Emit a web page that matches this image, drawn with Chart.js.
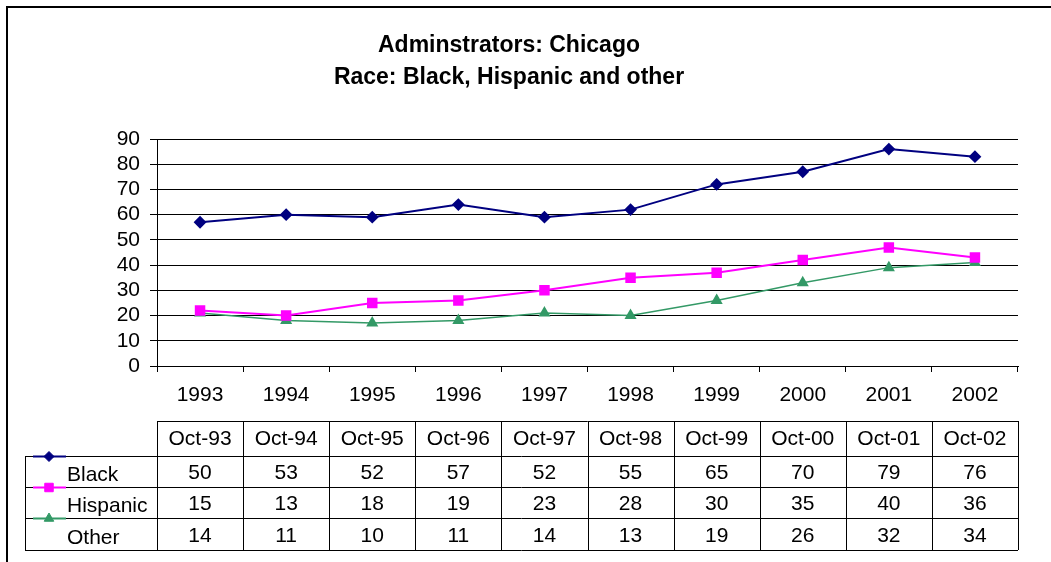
<!DOCTYPE html>
<html>
<head>
<meta charset="utf-8">
<title>Adminstrators: Chicago</title>
<script src="https://cdn.jsdelivr.net/npm/chart.js@4.4.1/dist/chart.umd.min.js"></script>
<style>
  html, body { margin: 0; padding: 0; background: #fff; }
  #wrap { width: 1051px; height: 562px; }
</style>
</head>
<body>
<div id="wrap"><canvas id="raceChart" width="1051" height="562"></canvas></div>
<script>
// years on the x axis
const years = ['1993', '1994', '1995', '1996', '1997', '1998', '1999', '2000', '2001', '2002'];

// plotted values (as drawn in the picture)
const black = [57, 60, 59, 64, 59, 62, 72, 77, 86, 83];
const hispanic = [22, 20, 25, 26, 30, 35, 37, 42, 47, 43];
const other = [21, 18, 17, 18, 21, 20, 26, 33, 39, 41];

// data table under the chart
const tableCols = ['Oct-93', 'Oct-94', 'Oct-95', 'Oct-96', 'Oct-97', 'Oct-98', 'Oct-99', 'Oct-00', 'Oct-01', 'Oct-02'];
const blackTable = [50, 53, 52, 57, 52, 55, 65, 70, 79, 76];
const hispanicTable = [15, 13, 18, 19, 23, 28, 30, 35, 40, 36];
const otherTable = [14, 11, 10, 11, 14, 13, 19, 26, 32, 34];

const yTicks = [0, 10, 20, 30, 40, 50, 60, 70, 80, 90];

const FONT = '"Liberation Sans", Arial, sans-serif';

// draws the frame and the data table with legend keys
const tablePlugin = {
    id: 'dataTable',
    beforeDraw(chart) {
        const c = chart.ctx;
        c.save();
        c.fillStyle = '#fff';
        c.fillRect(0, 0, chart.width, chart.height);
        c.fillStyle = '#000';
        c.fillRect(6, 6, 2, chart.height);
        c.fillRect(6, 6, chart.width, 2);
        c.restore();
    },
    afterDraw(chart) {
        const c = chart.ctx;
        const x = chart.scales.x;
        const area = chart.chartArea;
        const colW = (area.right - area.left) / years.length;
        const rows = [421, 456, 487, 518, 550];
        const legendLeft = 25;
        const rowData = [blackTable, hispanicTable, otherTable];

        c.save();
        c.strokeStyle = '#000';
        c.lineWidth = 1;
        c.beginPath();
        // horizontal lines
        c.moveTo(area.left, rows[0] + 0.5); c.lineTo(area.right, rows[0] + 0.5);
        for (let r = 1; r < rows.length; r++) {
            c.moveTo(legendLeft, rows[r] + 0.5); c.lineTo(area.right, rows[r] + 0.5);
        }
        // vertical lines
        c.moveTo(legendLeft + 0.5, rows[1]); c.lineTo(legendLeft + 0.5, rows[4]);
        for (let i = 0; i <= years.length; i++) {
            const px = Math.round(area.left + i * colW) + 0.5;
            c.moveTo(px, rows[0]); c.lineTo(px, rows[4]);
        }
        c.stroke();

        c.fillStyle = '#000';
        c.font = '21px ' + FONT;
        c.textAlign = 'center';
        c.textBaseline = 'middle';
        tableCols.forEach((t, i) => {
            c.fillText(t, x.getPixelForValue(i), (rows[0] + rows[1]) / 2 + 1);
        });
        rowData.forEach((vals, r) => {
            const cy = (rows[r + 1] + rows[r + 2]) / 2 + 2;
            vals.forEach((v, i) => c.fillText(String(v), x.getPixelForValue(i), cy));
        });

        // legend keys
        c.textAlign = 'left';
        chart.data.datasets.forEach((ds, r) => {
            const ly = rows[r + 1] + 0.5;
            c.strokeStyle = ds.borderColor;
            c.lineWidth = 2;
            c.beginPath();
            c.moveTo(33, ly); c.lineTo(66, ly);
            c.stroke();
            if (Chart.helpers && Chart.helpers.drawPoint) {
                c.fillStyle = ds.pointBackgroundColor;
                c.strokeStyle = ds.pointBorderColor;
                c.lineWidth = 1;
                Chart.helpers.drawPoint(c, { pointStyle: ds.pointStyle, radius: ds.pointRadius, rotation: 0, borderWidth: 1 }, 49, ly);
            }
            c.fillStyle = '#000';
            c.fillText(ds.label, 67, (rows[r + 1] + rows[r + 2]) / 2 + 4);
        });
        c.restore();
    }
};

const ctx = document.getElementById('raceChart').getContext('2d');

let raceChart = new Chart(ctx, {
    type: 'line',
    data: {
        labels: years,
        datasets: [
            {
                label: 'Black',
                data: black,
                borderColor: '#000080',
                backgroundColor: '#000080',
                pointBackgroundColor: '#000080',
                pointBorderColor: '#000080',
                pointStyle: 'rectRot',
                pointRadius: 5,
                borderWidth: 2,
                tension: 0
            },
            {
                label: 'Hispanic',
                data: hispanic,
                borderColor: '#FF00FF',
                backgroundColor: '#FF00FF',
                pointBackgroundColor: '#FF00FF',
                pointBorderColor: '#FF00FF',
                pointStyle: 'rect',
                pointRadius: 6,
                borderWidth: 2,
                tension: 0
            },
            {
                label: 'Other',
                data: other,
                borderColor: '#339966',
                backgroundColor: '#339966',
                pointBackgroundColor: '#339966',
                pointBorderColor: '#339966',
                pointStyle: 'triangle',
                pointRadius: 5.5,
                borderWidth: 1.5,
                tension: 0
            }
        ]
    },
    options: {
        responsive: false,
        animation: false,
        layout: { padding: { left: 0, right: 33, top: 0, bottom: 0 } },
        plugins: {
            legend: { display: false },
            tooltip: { enabled: false },
            title: {
                display: true,
                text: ['Adminstrators: Chicago', 'Race: Black, Hispanic and other'],
                color: '#000',
                font: { family: FONT, size: 23, weight: 'bold', lineHeight: 32 / 23 },
                padding: { top: 30, bottom: 45 }
            }
        },
        scales: {
            x: {
                offset: true,
                grid: { offset: true, drawOnChartArea: false, drawTicks: true, tickLength: 6, color: '#000' },
                border: { display: true, color: '#000', width: 1 },
                ticks: { color: '#000', font: { family: FONT, size: 21 }, padding: 11, maxRotation: 0, autoSkip: false },
                afterFit(scale) { scale.height = 196; }
            },
            y: {
                min: 0,
                max: 90,
                afterBuildTicks(scale) { scale.ticks = yTicks.map(v => ({ value: v })); },
                grid: { color: '#000', tickLength: 7, drawTicks: true },
                border: { display: true, color: '#000', width: 1 },
                ticks: { color: '#000', font: { family: FONT, size: 21 }, padding: 10, autoSkip: false },
                afterFit(scale) { scale.width = 157; }
            }
        }
    },
    plugins: [tablePlugin]
});
</script>
</body>
</html>
